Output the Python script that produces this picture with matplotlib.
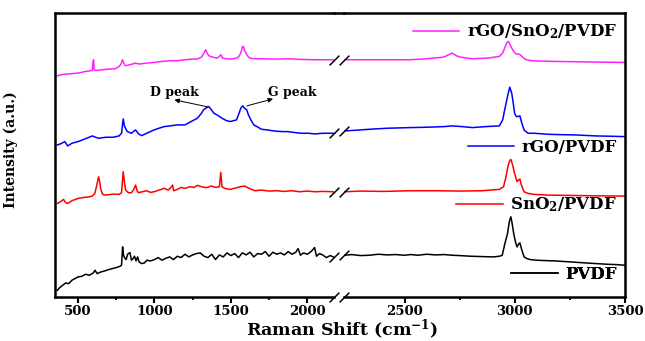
import numpy as np
import matplotlib
matplotlib.use("Agg")
import matplotlib.pyplot as plt
from matplotlib.lines import Line2D

plt.rcParams["font.family"] = ["DejaVu Serif"]
plt.rcParams["font.weight"] = "bold"
plt.rcParams["mathtext.fontset"] = "dejavuserif"

# Raman spectra (x in cm-1, intensity in arbitrary units)
pvdf_left = [(365, 20), (380, 28), (400, 35), (420, 42), (440, 40), (460, 50), (480, 55), (500, 60),
             (525, 62), (550, 68), (575, 65), (600, 72), (612, 80), (625, 70), (650, 75), (675, 78),
             (700, 82), (725, 85), (750, 88), (775, 92), (785, 95), (792, 150), (798, 125), (805, 118),
             (815, 112), (825, 128), (840, 133), (850, 110), (860, 115), (870, 122), (880, 108),
             (890, 120), (900, 105), (917, 100), (935, 102), (950, 110), (975, 108), (1000, 112),
             (1025, 118), (1050, 110), (1075, 116), (1100, 120), (1125, 112), (1150, 122), (1175, 118),
             (1200, 128), (1225, 120), (1250, 126), (1275, 130), (1300, 132), (1325, 122), (1350, 118),
             (1375, 128), (1400, 112), (1425, 126), (1450, 120), (1475, 132), (1500, 124), (1525, 130),
             (1550, 118), (1575, 132), (1600, 126), (1625, 134), (1650, 120), (1675, 130), (1700, 128),
             (1725, 136), (1750, 122), (1775, 134), (1800, 128), (1825, 132), (1850, 126), (1875, 136),
             (1900, 128), (1925, 134), (1940, 145), (1955, 125), (1975, 132), (2000, 128), (2025, 136),
             (2048, 148), (2060, 122), (2080, 130), (2100, 126), (2125, 118), (2150, 124), (2170, 120)]
pvdf_right = [(2229, 125), (2260, 127), (2300, 124), (2341, 125), (2380, 128), (2420, 126), (2460, 127),
              (2500, 125), (2528, 127), (2560, 125), (2600, 128), (2640, 126), (2680, 127), (2715, 125),
              (2750, 124), (2800, 122), (2850, 121), (2902, 120), (2930, 122), (2943, 125), (2955, 160),
              (2967, 190), (2975, 225), (2982, 240), (2988, 220), (2995, 190), (3003, 165), (3010, 150),
              (3017, 158), (3023, 162), (3030, 145), (3042, 120), (3055, 115), (3070, 112), (3100, 110),
              (3140, 109), (3182, 108), (3230, 106), (3276, 104), (3320, 102), (3369, 100), (3420, 98),
              (3460, 97), (3500, 95)]

sno2_left = [(365, 280), (385, 285), (406, 292), (420, 282), (433, 280), (460, 288), (500, 295),
             (540, 298), (575, 300), (594, 302), (610, 310), (621, 330), (635, 360), (642, 345),
             (648, 325), (660, 308), (675, 305), (700, 306), (730, 308), (769, 307), (785, 312),
             (796, 375), (805, 340), (812, 320), (830, 312), (850, 312), (865, 322), (877, 335),
             (887, 318), (896, 312), (920, 315), (950, 318), (975, 313), (998, 315), (1030, 320),
             (1065, 325), (1090, 320), (1112, 330), (1119, 335), (1126, 318), (1150, 322), (1175, 328),
             (1200, 325), (1230, 330), (1260, 328), (1281, 334), (1308, 330), (1340, 327), (1370, 332),
             (1402, 328), (1425, 330), (1434, 373), (1442, 330), (1460, 325), (1496, 322), (1530, 326),
             (1560, 330), (1590, 332), (1620, 325), (1658, 318), (1700, 320), (1750, 317), (1800, 318),
             (1850, 316), (1900, 318), (1950, 315), (2000, 317), (2050, 315), (2100, 316), (2169, 315)]
sno2_right = [(2229, 315), (2300, 317), (2400, 316), (2528, 318), (2650, 318), (2750, 317), (2850, 318),
              (2930, 322), (2949, 330), (2960, 360), (2967, 385), (2975, 405), (2982, 412), (2990, 395),
              (2999, 370), (3010, 345), (3017, 350), (3023, 353), (3030, 335), (3042, 315), (3060, 310),
              (3089, 307), (3150, 305), (3250, 304), (3350, 303), (3500, 302)]

rgo_left = [(365, 455), (385, 458), (414, 465), (433, 452), (460, 460), (500, 465), (540, 472),
            (594, 482), (615, 478), (635, 475), (680, 478), (729, 478), (769, 482), (785, 490),
            (796, 533), (805, 510), (823, 495), (850, 490), (865, 496), (877, 500), (896, 488),
            (917, 483), (950, 490), (998, 500), (1030, 505), (1065, 510), (1100, 512), (1150, 515),
            (1200, 515), (1240, 525), (1281, 535), (1308, 550), (1321, 560), (1340, 566), (1356, 570),
            (1370, 562), (1389, 550), (1410, 545), (1442, 535), (1470, 528), (1496, 525), (1520, 528),
            (1537, 530), (1550, 545), (1565, 565), (1577, 572), (1590, 565), (1604, 560), (1615, 545),
            (1631, 530), (1650, 515), (1671, 510), (1700, 502), (1740, 500), (1766, 498), (1800, 496),
            (1840, 495), (1873, 495), (1920, 492), (1960, 490), (2008, 490), (2050, 488), (2100, 490),
            (2169, 490)]
rgo_right = [(2229, 497), (2300, 500), (2341, 502), (2420, 505), (2528, 507), (2600, 508), (2680, 510),
             (2715, 512), (2760, 510), (2808, 507), (2870, 510), (2930, 512), (2945, 530), (2954, 560),
             (2967, 600), (2977, 628), (2986, 610), (2993, 580), (2999, 550), (3007, 540), (3014, 540),
             (3023, 542), (3032, 520), (3042, 500), (3060, 490), (3089, 490), (3150, 487), (3200, 486),
             (3276, 485), (3369, 482), (3440, 481), (3500, 480)]

rgo_sno2_left = [(365, 662), (400, 666), (450, 668), (500, 670), (550, 675), (594, 678), (598, 700),
                 (602, 710), (606, 680), (620, 678), (660, 680), (700, 682), (742, 683), (770, 690),
                 (783, 698), (791, 710), (800, 700), (810, 692), (840, 695), (877, 700), (900, 697),
                 (950, 700), (998, 702), (1050, 705), (1100, 707), (1146, 707), (1200, 710), (1250, 712),
                 (1281, 712), (1308, 718), (1322, 728), (1335, 740), (1345, 730), (1356, 722), (1380, 718),
                 (1410, 715), (1425, 720), (1434, 725), (1445, 715), (1470, 713), (1496, 712), (1530, 714),
                 (1550, 718), (1565, 730), (1575, 748), (1582, 750), (1590, 738), (1604, 725), (1620, 716),
                 (1644, 713), (1700, 713), (1780, 712), (1873, 713), (1950, 711), (2050, 710), (2169, 710)]
rgo_sno2_right = [(2229, 710), (2300, 710), (2400, 710), (2528, 710), (2600, 713), (2650, 716), (2678, 718),
                  (2700, 725), (2715, 730), (2735, 722), (2752, 718), (2780, 715), (2808, 713), (2880, 715),
                  (2930, 720), (2945, 730), (2954, 745), (2963, 760), (2971, 765), (2979, 755), (2986, 745),
                  (2995, 735), (3005, 728), (3014, 727), (3023, 726), (3035, 718), (3051, 710), (3080, 707),
                  (3120, 706), (3182, 705), (3276, 704), (3369, 703), (3500, 702)]

series = [
    ("rGO/SnO$_\\mathbf{2}$/PVDF", "#ff22ff", rgo_sno2_left, rgo_sno2_right),
    ("rGO/PVDF", "#0000ff", rgo_left, rgo_right),
    ("SnO$_\\mathbf{2}$/PVDF", "#ff0000", sno2_left, sno2_right),
    ("PVDF", "black", pvdf_left, pvdf_right),
]
legend_y = [0.933, 0.528, 0.324, 0.081]

d_peak = (1349, 569)
g_peak = (1605, 572)

fig = plt.figure(figsize=(6.45, 3.41), dpi=100)
ax_l = fig.add_axes([0.0853, 0.129, 0.4326, 0.833])
ax_r = fig.add_axes([0.5333, 0.129, 0.4357, 0.833])

for ax, lim in ((ax_l, (350, 2175)), (ax_r, (2225, 3500))):
    ax.set_xlim(*lim)
    ax.set_ylim(0, 850)
    ax.set_yticks([])
    for sp in ax.spines.values():
        sp.set_linewidth(1.8)
    ax.tick_params(axis="x", which="major", direction="out", length=4, width=1.5,
                   labelsize=9.5, pad=1.5)
    ax.tick_params(axis="x", which="minor", direction="out", length=2.5, width=1.3)

ax_l.spines["right"].set_visible(False)
ax_r.spines["left"].set_visible(False)
ax_l.set_xticks([500, 1000, 1500, 2000])
ax_l.set_xticks([750, 1250, 1750], minor=True)
ax_r.set_xticks([2500, 3000, 3500])
ax_r.set_xticks([2750, 3250], minor=True)
for ax in (ax_l, ax_r):
    for lab in ax.get_xticklabels():
        lab.set_fontweight("bold")

brk = dict(marker=[(-1, -1), (1, 1)], markersize=7, linestyle="none", color="black",
           mec="black", mew=1.1, clip_on=False)

handles = []
for label, color, left, right in series:
    xl, yl = np.array(left).T
    xr, yr = np.array(right).T
    h, = ax_l.plot(xl, yl, color=color, lw=1.1)
    ax_r.plot(xr, yr, color=color, lw=1.1)
    handles.append(h)
    ax_l.plot([1], [yl[-1]], transform=ax_l.get_yaxis_transform(), **brk)
    ax_r.plot([0], [yr[0]], transform=ax_r.get_yaxis_transform(), **brk)

ax_l.plot([1], [0], transform=ax_l.transAxes, **brk)
ax_r.plot([0], [0], transform=ax_r.transAxes, **brk)

# close the top frame across the gap
pl = ax_l.get_position()
pr = ax_r.get_position()
fig.add_artist(Line2D([pl.x1, pr.x0], [pl.y1, pl.y1], transform=fig.transFigure,
                      color="black", lw=1.8))

for h, (label, *_), ly in zip(handles, series, legend_y):
    leg = ax_r.legend([h], [label], loc="center right", bbox_to_anchor=(0.972, ly),
                      frameon=False, borderpad=0, borderaxespad=0, handlelength=2.8,
                      handletextpad=0.45, prop=dict(size=12, weight="bold"))
    ax_r.add_artist(leg)

arrow = dict(arrowstyle="-|>", color="black", lw=0.7, mutation_scale=7, shrinkA=0, shrinkB=0)
ax_l.annotate("", xy=(1131, 590), xytext=d_peak, arrowprops=arrow)
ax_l.annotate("", xy=(1776, 593), xytext=g_peak, arrowprops=arrow)
ax_l.text(1131, 611, "D peak", ha="center", va="center", fontsize=9, fontweight="bold")
ax_l.text(1901, 611, "G peak", ha="center", va="center", fontsize=9, fontweight="bold")

ax_l.set_ylabel("Intensity (a.u.)", fontsize=10, fontweight="bold")
ax_l.yaxis.set_label_coords(-0.133, 0.52)
fig.text(342 / 645, 1 - 329.5 / 341, "Raman Shift (cm$^{\\mathbf{-1}}$)", ha="center", va="center",
         fontsize=12.5, fontweight="bold")

fig.savefig("out.png", dpi=100)
